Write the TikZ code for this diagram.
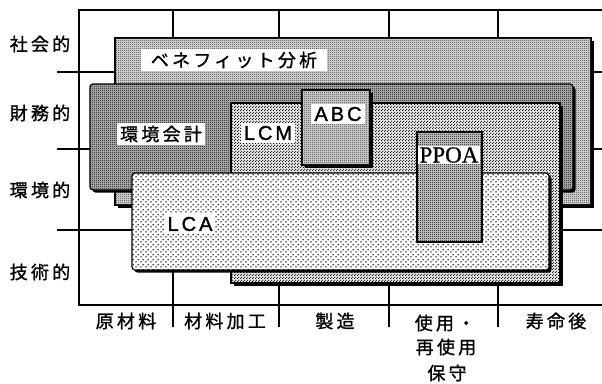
\documentclass[tikz,border=0pt]{standalone}
\usepackage{fontspec}
\newfontfamily\jp[LetterSpace=18,FakeBold=1.2]{Noto Sans CJK JP}
\newfontfamily\lat[LetterSpace=15,FakeBold=1.5]{Liberation Sans}
\newfontfamily\ser[FakeBold=0.8]{Liberation Serif}
\usetikzlibrary{patterns,shadows}
\pgfdeclarepatternformonly{checkfine}{\pgfpointorigin}{\pgfpoint{2pt}{2pt}}{\pgfpoint{2pt}{2pt}}{%
  \pgfpathrectangle{\pgfpointorigin}{\pgfpoint{1pt}{1pt}}%
  \pgfpathrectangle{\pgfpoint{1pt}{1pt}}{\pgfpoint{1pt}{1pt}}%
  \pgfusepath{fill}}
\pgfdeclarepatternformonly{densedots}{\pgfpointorigin}{\pgfpoint{3pt}{3pt}}{\pgfpoint{3pt}{3pt}}{%
  \pgfpathcircle{\pgfpoint{0.75pt}{0.75pt}}{0.75pt}%
  \pgfpathcircle{\pgfpoint{2.25pt}{2.25pt}}{0.75pt}%
  \pgfusepath{fill}}
\pgfdeclarepatternformonly{sparsedots}{\pgfpointorigin}{\pgfpoint{5pt}{5pt}}{\pgfpoint{5pt}{5pt}}{%
  \pgfpathcircle{\pgfpoint{1.25pt}{1.25pt}}{0.9pt}%
  \pgfpathcircle{\pgfpoint{3.75pt}{3.75pt}}{0.9pt}%
  \pgfusepath{fill}}
\begin{document}
\begin{tikzpicture}[x=1pt,y=-1pt,
  axlbl/.style={font=\jp\fontsize{18}{18}\selectfont, inner sep=0pt, anchor=center},
  tag/.style={fill=white, inner xsep=3pt, inner ysep=3pt, anchor=center},
  jptag/.style={tag, font=\jp\fontsize{18}{18}\selectfont},
  lattag/.style={tag, font=\lat\fontsize{20}{20}\selectfont},
  grid/.style={line width=1.2pt},
  boxline/.style={draw=black, line width=1.2pt},
  shad/.style={drop shadow={shadow xshift=2.5pt, shadow yshift=-2.5pt, fill=black, opacity=1}}
]
\useasboundingbox (0,0) rectangle (602,383);
% frame and grid
\draw[grid] (612,10) -- (79,10) -- (79,305) -- (612,305);
\foreach \x/\w in {173/1.2, 279/1.2, 389/2.4, 498/2.4}
  \draw[line width=\w pt] (\x,10) -- (\x,327);
\foreach \y in {72,149,230}
  \draw[grid] (57,\y) -- (612,\y);
% boxes
\path[boxline, shad, fill=gray!25, postaction={pattern=checkfine, pattern color=black!80}]
  (115,38) rectangle (591,205);
\path[boxline, shad, rounded corners=3pt, fill=gray!55, postaction={pattern=checkfine, pattern color=black}]
  (90,84) rectangle (573,190);
\path[boxline, shad, fill=gray!20, postaction={pattern=densedots, pattern color=black}]
  (231,103) rectangle (560,283);
\path[boxline, line width=2pt, shad, fill=gray!30, postaction={pattern=checkfine, pattern color=black!80}]
  (302,90) rectangle (370,165);
\path[boxline, shad, rounded corners=3pt, fill=white, postaction={pattern=sparsedots, pattern color=black}]
  (132,173) rectangle (549,270);
\path[boxline, line width=1.6pt, fill=gray!35, postaction={pattern=checkfine, pattern color=black}]
  (417,132) rectangle (482,242);
% box labels
\node[jptag, minimum width=186pt] (ben) at (234,60) {ベネフィット分析};
\node[jptag] (kan) at (161,134) {環境会計};
\node[lattag] (lcm) at (268,133) {LCM};
\node[lattag] (abc) at (338,114) {ABC};
\node[tag, inner xsep=2pt, inner ysep=1pt, font=\ser\fontsize{23}{23}\selectfont] (ppoa) at (449,155) {PPOA};
\node[lattag] (lca) at (190,224) {LCA};
% axis labels
\node[axlbl] (r1) at (40,44) {社会的};
\node[axlbl] (r2) at (40,113) {財務的};
\node[axlbl] (r3) at (40,190) {環境的};
\node[axlbl] (r4) at (40,272) {技術的};
\node[axlbl] (c1) at (126,321) {原材料};
\node[axlbl] (c2) at (225,321) {材料加工};
\node[axlbl] (c3) at (335,321) {製造};
\node[axlbl] (c4) at (445,323) {使用・};
\node[axlbl] (c5) at (446,347) {再使用};
\node[axlbl] (c6) at (447,373) {保守};
\node[axlbl] (c7) at (556,321) {寿命後};
\end{tikzpicture}
\end{document}
